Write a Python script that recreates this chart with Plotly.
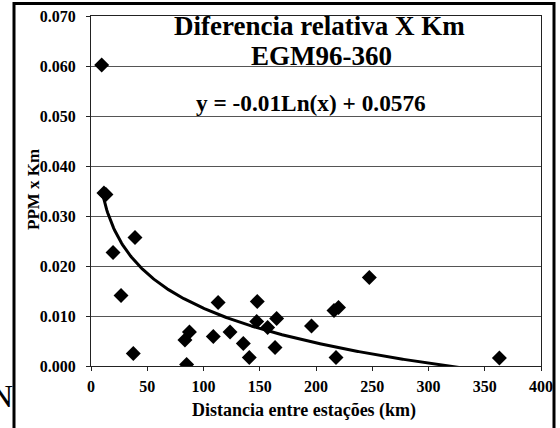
import numpy as np
import plotly.graph_objects as go

# Data
distancia_km = [9.5, 11.5, 13.3, 19.6, 26.7, 39.1, 37.6, 85.0, 83.5, 87.5,
                108.7, 113.0, 123.6, 135.4, 140.7, 147.8, 147.3, 157.0, 165.0,
                163.6, 196.0, 216.0, 220.0, 217.8, 247.4, 363.0]
ppm_km = [0.0602, 0.0346, 0.0343, 0.0227, 0.0141, 0.0257, 0.0025, 0.0003,
          0.0052, 0.0068, 0.0059, 0.0127, 0.0068, 0.0045, 0.0017, 0.0129,
          0.0089, 0.0077, 0.0095, 0.0037, 0.0080, 0.0111, 0.0117, 0.0017,
          0.0177, 0.0016]

# Logarithmic trendline coefficients shown on the chart: y = a*ln(x) + b
TREND_A = -0.01
TREND_B = 0.0576

y_ticks = [0.0, 0.01, 0.02, 0.03, 0.04, 0.05, 0.06, 0.07]
x_ticks = [0, 50, 100, 150, 200, 250, 300, 350, 400]

FONT = "Liberation Serif, Times New Roman, serif"

tx = np.linspace(min(distancia_km), max(distancia_km), 400)
ty = TREND_A * np.log(tx) + TREND_B

fig = go.Figure()
fig.add_trace(go.Scatter(x=tx, y=ty, mode="lines",
                         line=dict(color="black", width=3), hoverinfo="skip",
                         showlegend=False))
fig.add_trace(go.Scatter(x=distancia_km, y=ppm_km, mode="markers",
                         marker=dict(symbol="diamond", size=11.5, color="black",
                                     line=dict(width=0)),
                         showlegend=False))

W, H = 560, 428
L, R, T, B = 91, 19, 16, 62
pw, ph = W - L - R, H - T - B

def px(x):
    return (x - L) / pw

def py(y):
    return 1 - (y - T) / ph

frame_line = dict(color="black", width=3)
shapes = [
    dict(type="rect", xref="paper", yref="paper", x0=px(14), x1=px(554),
         y0=py(440), y1=py(3.5), line=frame_line, fillcolor="rgba(0,0,0,0)",
         layer="above"),
]

fig.update_layout(
    width=W, height=H,
    margin=dict(l=L, r=R, t=T, b=B, autoexpand=False),
    paper_bgcolor="white", plot_bgcolor="white",
    font=dict(family=FONT, color="black"),
    xaxis=dict(range=[0, 400], tickvals=x_ticks, showgrid=False, zeroline=False,
               showline=True, linecolor="#222", linewidth=1, mirror=True,
               ticks="outside", ticklen=4, tickcolor="#222", automargin=False,
               ticklabelstandoff=2,
               tickfont=dict(family=FONT, size=16, weight="bold")),
    yaxis=dict(range=[0, 0.07], tickvals=y_ticks, tickformat=".3f",
               showgrid=True, gridcolor="#555", gridwidth=1, zeroline=False,
               showline=True, linecolor="#222", linewidth=1, mirror=True,
               ticks="outside", ticklen=4, tickcolor="#222", automargin=False,
               ticklabelstandoff=7,
               tickfont=dict(family=FONT, size=16, weight="bold")),
    shapes=shapes,
    annotations=[
        dict(text="<b>Diferencia relativa X Km</b>", xref="paper", yref="paper",
             x=px(319), y=py(26), showarrow=False, xanchor="center", yanchor="middle",
             font=dict(family=FONT, size=27)),
        dict(text="<b>EGM96-360</b>", xref="paper", yref="paper",
             x=px(321), y=py(56), showarrow=False, xanchor="center", yanchor="middle",
             font=dict(family=FONT, size=27)),
        dict(text="<b>y = -0.01Ln(x) + 0.0576</b>", xref="paper", yref="paper",
             x=px(311), y=py(103), showarrow=False, xanchor="center", yanchor="middle",
             font=dict(family=FONT, size=23.3)),
        dict(text="<b>PPM x Km</b>", xref="paper", yref="paper",
             x=px(33), y=py(190), showarrow=False, xanchor="center", yanchor="middle",
             textangle=-90, font=dict(family=FONT, size=17)),
        dict(text="<b>Distancia entre estações (km)</b>", xref="paper", yref="paper",
             x=px(304), y=py(410), showarrow=False, xanchor="center", yanchor="middle",
             font=dict(family=FONT, size=18)),
        dict(text="N", xref="paper", yref="paper",
             x=px(15), y=py(396), showarrow=False, xanchor="right", yanchor="middle",
             font=dict(family=FONT, size=32)),
    ],
)

fig.write_html("out.html", config={"displayModeBar": False},
               post_script="document.body.style.margin='0';document.body.style.overflow='hidden';")
